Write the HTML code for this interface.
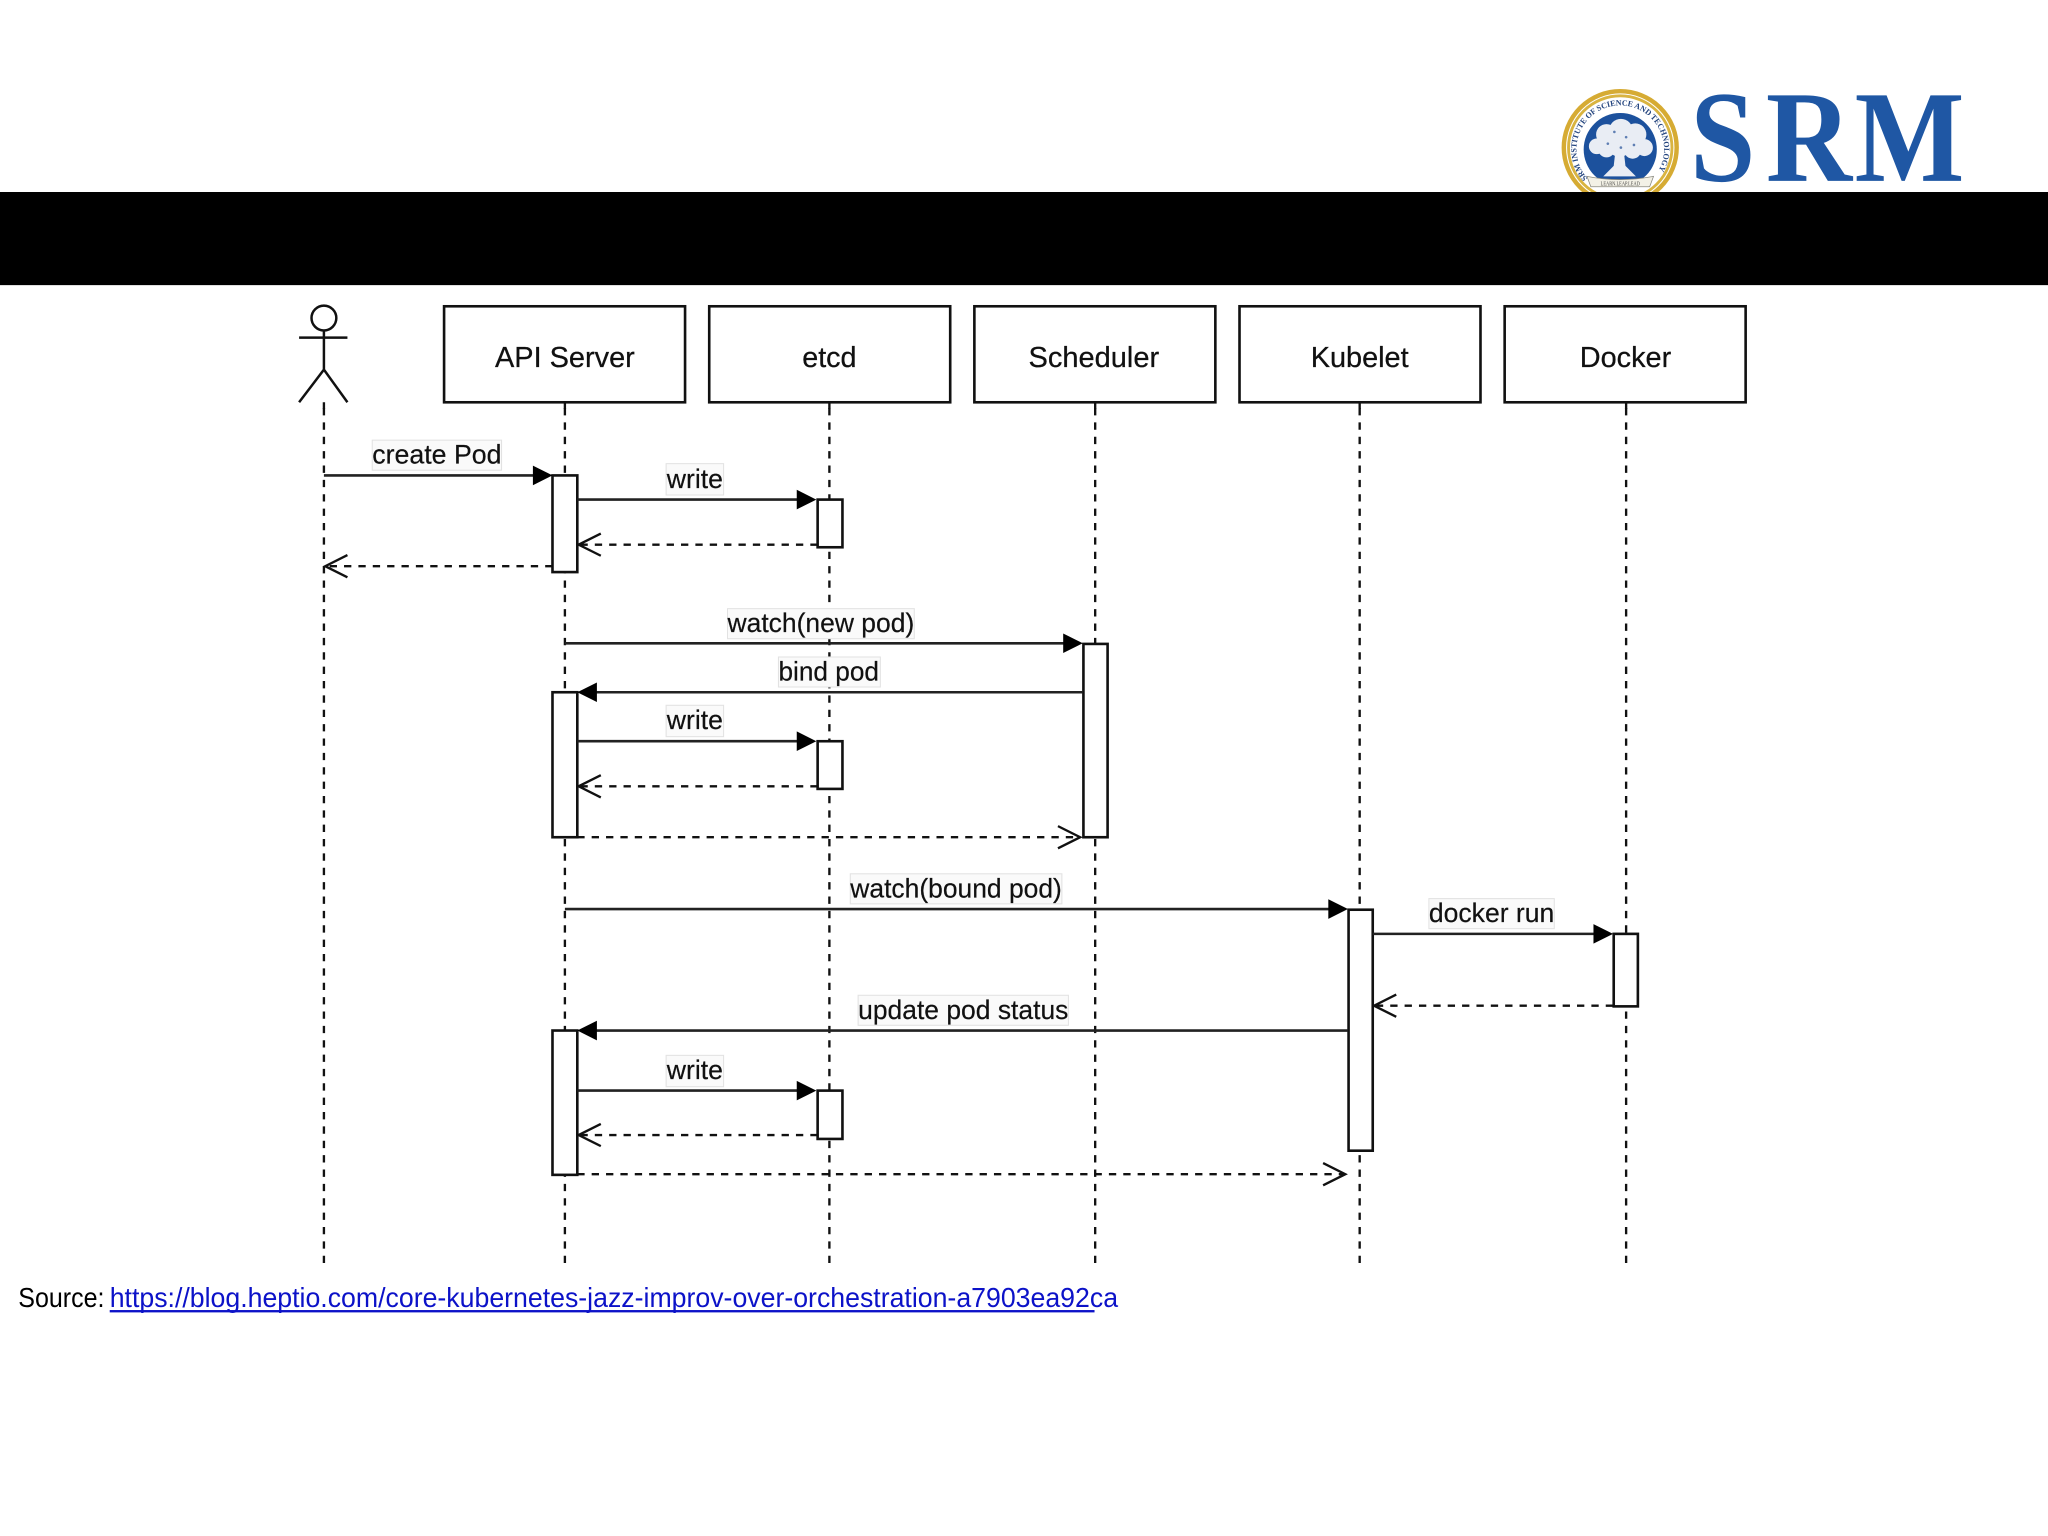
<!DOCTYPE html>
<html lang="en">
<head>
<meta charset="utf-8">
<title>Kubernetes Pod Sequence</title>
<style>
html,body{margin:0;padding:0;background:#fff;width:2048px;height:1536px;overflow:hidden}
svg{display:block}
.h{font:22px "Liberation Sans",sans-serif;fill:#111;stroke:#111;stroke-width:.2;text-anchor:middle}
.l{font:20.5px "Liberation Sans",sans-serif;fill:#111;stroke:#111;stroke-width:.15}
.bg{fill:#fafafa;stroke:#e2e2e2;stroke-width:.8}
.box{fill:#fff;stroke:#111;stroke-width:2}
.act{fill:#fff;stroke:#111;stroke-width:2}
.life{stroke:#111;stroke-width:1.8;stroke-dasharray:5.6 5.4;fill:none}
.sol{stroke:#222;stroke-width:2;fill:none}
.das{stroke:#111;stroke-width:1.8;stroke-dasharray:5.6 5.4;fill:none}
.open{stroke:#111;stroke-width:1.8;fill:none}
.tri{fill:#000}
</style>
</head>
<body>
<svg xmlns="http://www.w3.org/2000/svg" width="2048" height="1536" viewBox="0 0 1568 1176">
<rect width="1568" height="1176" fill="#fff"/>

<!-- logo -->
<circle cx="1240.500" cy="113" r="43.200" fill="#fff" stroke="#d6ab33" stroke-width="3.400"/>
<circle cx="1240.500" cy="113" r="39.600" fill="none" stroke="#d9b440" stroke-width="2.200"/>
<defs><path id="ringArc" d="M1215.500 136.500A33.500 33.500 0 1 1 1265.500 136.500"/></defs>
<text font-family="Liberation Serif,serif" font-weight="700" font-size="6.200" fill="#23447e"><textPath href="#ringArc" textLength="146" lengthAdjust="spacingAndGlyphs">SRM INSTITUTE OF SCIENCE AND TECHNOLOGY</textPath></text>
<circle cx="1240.500" cy="114.500" r="28" fill="#1c519d"/>
<g fill="#e9edf4">
<circle cx="1241" cy="100" r="9"/><circle cx="1230" cy="103" r="8"/><circle cx="1252" cy="103" r="8.500"/>
<circle cx="1222.500" cy="112" r="6"/><circle cx="1259" cy="113" r="6.500"/><circle cx="1240" cy="110" r="10"/>
<circle cx="1230" cy="114" r="6.500"/><circle cx="1250" cy="115" r="6.500"/>
<path d="M1237 114h6l1.500 13 8 8h-25l8-8z"/>
</g>
<g fill="#5f7fb3">
<circle cx="1236" cy="101" r="1"/><circle cx="1245" cy="105" r="1"/><circle cx="1231" cy="110" r="1"/><circle cx="1251" cy="111" r="1"/><circle cx="1241" cy="113" r="1"/>
</g>
<path d="M1215 135q25 5 51 0l-3 8h-45z" fill="#f3f1e6" stroke="#8a8a80" stroke-width=".6"/>
<text x="1240.500" y="142" text-anchor="middle" font-family="Liberation Serif,serif" font-size="5" fill="#444" textLength="30" lengthAdjust="spacingAndGlyphs">LEARN.LEAP.LEAD</text>
<g font-family="Liberation Serif,serif" font-weight="700" font-size="100" fill="#1f57a4">
<text x="1294" y="138.500" textLength="50" lengthAdjust="spacingAndGlyphs">S</text>
<text x="1352" y="138.500" textLength="66" lengthAdjust="spacingAndGlyphs">R</text>
<text x="1420" y="138.500" textLength="84" lengthAdjust="spacingAndGlyphs">M</text>
</g>

<!-- band -->
<rect x="0" y="147" width="1568" height="71.300" fill="#000"/>

<!-- lifelines (drawn bottom-up so dash phase matches at the lower end) -->
<path class="life" d="M248 967V308M432.500 967V308M635 967V308M838.500 967V308M1041 967V308M1245 967V308"/>
<path d="M248 308V313M432.500 308V313M635 308V313M838.500 308V313M1041 308V313M1245 308V313" stroke="#111" stroke-width="1.800" fill="none"/>

<!-- actor -->
<g fill="none" stroke="#111" stroke-width="1.900">
<circle cx="248" cy="243.500" r="9.500" fill="#fff"/>
<path d="M248 253V283M229 258.500H266M229 308L248 283L266 308"/>
</g>

<!-- header boxes -->
<rect class="box" x="340" y="234.500" width="184.500" height="73.500"/>
<rect class="box" x="543" y="234.500" width="184.500" height="73.500"/>
<rect class="box" x="746" y="234.500" width="184.500" height="73.500"/>
<rect class="box" x="949" y="234.500" width="184.500" height="73.500"/>
<rect class="box" x="1152" y="234.500" width="184.500" height="73.500"/>
<text class="h" x="432.500" y="281" textLength="107" lengthAdjust="spacingAndGlyphs">API Server</text>
<text class="h" x="635" y="281">etcd</text>
<text class="h" x="837.500" y="281" textLength="100" lengthAdjust="spacingAndGlyphs">Scheduler</text>
<text class="h" x="1041" y="281" textLength="75" lengthAdjust="spacingAndGlyphs">Kubelet</text>
<text class="h" x="1244.500" y="281" textLength="70" lengthAdjust="spacingAndGlyphs">Docker</text>

<!-- activations -->
<rect class="act" x="423" y="364" width="19" height="74"/>
<rect class="act" x="626" y="382.500" width="19" height="36.500"/>
<rect class="act" x="829.500" y="493" width="18.500" height="148"/>
<rect class="act" x="423" y="530" width="19" height="111"/>
<rect class="act" x="626" y="567.500" width="19" height="36.500"/>
<rect class="act" x="1032.500" y="696.500" width="18.500" height="184.500"/>
<rect class="act" x="1235.500" y="715" width="18.500" height="55.500"/>
<rect class="act" x="423" y="789" width="19" height="110.500"/>
<rect class="act" x="626" y="835" width="19" height="37"/>

<!-- solid arrows -->
<path class="sol" d="M248 364H410"/><path class="tri" d="M408 356.500L423 364L408 371.500z"/>
<path class="sol" d="M442 382.500H612"/><path class="tri" d="M610 375L625 382.500L610 390z"/>
<path class="sol" d="M432.500 492.500H816"/><path class="tri" d="M814 485L829 492.500L814 500z"/>
<path class="sol" d="M829 530H455"/><path class="tri" d="M457 522.500L442 530L457 537.500z"/>
<path class="sol" d="M442 567.500H612"/><path class="tri" d="M610 560L625 567.500L610 575z"/>
<path class="sol" d="M432.500 696H1019"/><path class="tri" d="M1017 688.500L1032 696L1017 703.500z"/>
<path class="sol" d="M1051 715H1222"/><path class="tri" d="M1220 707.500L1235 715L1220 722.500z"/>
<path class="sol" d="M1032 789H455"/><path class="tri" d="M457 781.500L442 789L457 796.500z"/>
<path class="sol" d="M442 835H612"/><path class="tri" d="M610 827.500L625 835L610 842.500z"/>

<!-- dashed returns -->
<path class="das" d="M626 417H444"/><path class="open" d="M460 408.500L443 417L460 425.500"/>
<path class="das" d="M423 433.500H250"/><path class="open" d="M266 425L249 433.500L266 442"/>
<path class="das" d="M626 602H444"/><path class="open" d="M460 593.500L443 602L460 610.500"/>
<path class="das" d="M442 641H827"/><path class="open" d="M810 632.500L827 641L810 649.500"/>
<path class="das" d="M1235 770H1053"/><path class="open" d="M1069 761.500L1052 770L1069 778.500"/>
<path class="das" d="M626 869H444"/><path class="open" d="M460 860.500L443 869L460 877.500"/>
<path class="das" d="M442 899H1030"/><path class="open" d="M1013 890.500L1030 899L1013 907.500"/>

<!-- labels -->
<rect class="bg" x="285" y="337" width="99" height="23"/>
<text class="l" x="285" y="355" textLength="99" lengthAdjust="spacingAndGlyphs">create Pod</text>
<rect class="bg" x="510" y="355" width="44" height="24"/>
<text class="l" x="510.500" y="373.500" textLength="43" lengthAdjust="spacingAndGlyphs">write</text>
<rect class="bg" x="557" y="466" width="143" height="23"/>
<text class="l" x="557" y="484" textLength="143" lengthAdjust="spacingAndGlyphs">watch(new pod)</text>
<rect class="bg" x="596" y="503" width="78" height="23"/>
<text class="l" x="596" y="521" textLength="77" lengthAdjust="spacingAndGlyphs">bind pod</text>
<rect class="bg" x="510" y="540" width="44" height="24"/>
<text class="l" x="510.500" y="558" textLength="43" lengthAdjust="spacingAndGlyphs">write</text>
<rect class="bg" x="651" y="669" width="162" height="23"/>
<text class="l" x="651" y="687" textLength="162" lengthAdjust="spacingAndGlyphs">watch(bound pod)</text>
<rect class="bg" x="1094" y="688" width="96" height="23"/>
<text class="l" x="1094" y="706" textLength="96" lengthAdjust="spacingAndGlyphs">docker run</text>
<rect class="bg" x="657" y="762" width="161" height="23"/>
<text class="l" x="657" y="780" textLength="161" lengthAdjust="spacingAndGlyphs">update pod status</text>
<rect class="bg" x="510" y="808" width="44" height="24"/>
<text class="l" x="510.500" y="826" textLength="43" lengthAdjust="spacingAndGlyphs">write</text>

<!-- source line -->
<text x="14" y="1000.500" font-family="Liberation Sans,sans-serif" font-size="21" fill="#000" textLength="66" lengthAdjust="spacingAndGlyphs">Source:</text>
<text x="84" y="1000.500" font-family="Liberation Sans,sans-serif" font-size="21" fill="#0c12c8" textLength="772" lengthAdjust="spacingAndGlyphs">https://blog.heptio.com/core-kubernetes-jazz-improv-over-orchestration-a7903ea92ca</text>
<rect x="84" y="1003" width="754" height="1.800" fill="#0c12c8"/>
</svg>
</body>
</html>
